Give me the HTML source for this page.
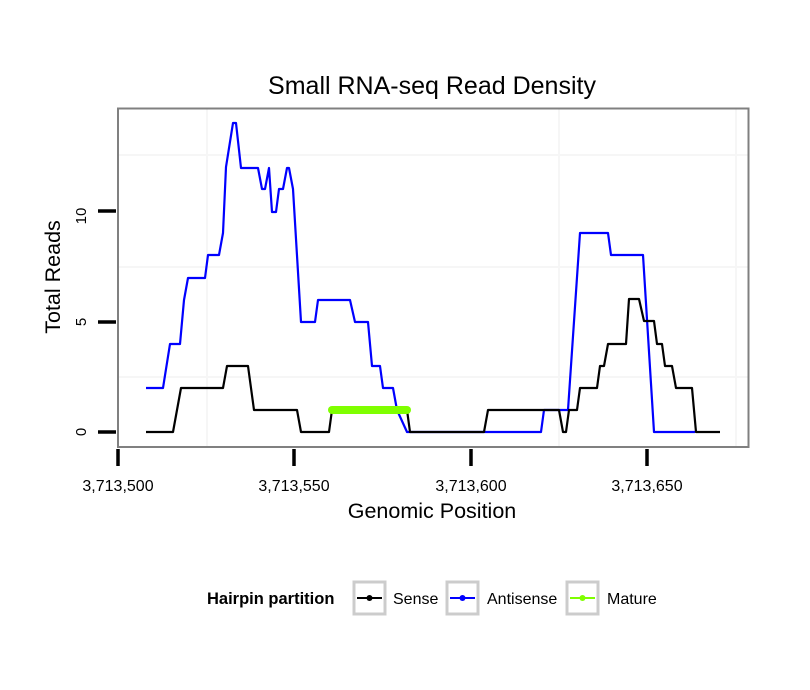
<!DOCTYPE html>
<html><head><style>body{margin:0;background:#fff}svg{display:block}text{font-family:"Liberation Sans",sans-serif}</style></head><body>
<svg width="810" height="690" viewBox="0 0 810 690" xmlns="http://www.w3.org/2000/svg">
<rect x="0" y="0" width="810" height="690" fill="#fff"/>
<g stroke="#f6f6f6" stroke-width="2">
<line x1="207" y1="109" x2="207" y2="446"/><line x1="559" y1="109" x2="559" y2="446"/><line x1="736" y1="109" x2="736" y2="446"/>
<line x1="119" y1="155" x2="748" y2="155"/><line x1="119" y1="267" x2="748" y2="267"/><line x1="119" y1="377" x2="748" y2="377"/>
</g>
<rect x="118" y="108.5" width="630.5" height="338.5" fill="none" stroke="#808080" stroke-width="2"/>
<text x="432" y="94" font-size="25" text-anchor="middle">Small RNA-seq Read Density</text>
<g stroke="#000" stroke-width="3.5">
<line x1="98" y1="211" x2="116" y2="211"/><line x1="98" y1="322" x2="116" y2="322"/><line x1="98" y1="432" x2="116" y2="432"/>
<line x1="118" y1="449" x2="118" y2="466"/><line x1="294" y1="449" x2="294" y2="466"/><line x1="471" y1="449" x2="471" y2="466"/><line x1="647" y1="449" x2="647" y2="466"/>
</g>
<g font-size="15" text-anchor="middle">
<text transform="translate(86,216) rotate(-90)">10</text>
<text transform="translate(86,322) rotate(-90)">5</text>
<text transform="translate(86,432) rotate(-90)">0</text>
</g>
<g font-size="16" text-anchor="middle">
<text x="118" y="491">3,713,500</text><text x="294" y="491">3,713,550</text><text x="471" y="491">3,713,600</text><text x="647" y="491">3,713,650</text>
</g>
<text x="432" y="518" font-size="21.5" text-anchor="middle">Genomic Position</text>
<text transform="translate(60,277) rotate(-90)" font-size="21.5" text-anchor="middle">Total Reads</text>
<polyline fill="none" stroke="#0000ff" stroke-width="2.2" stroke-linejoin="round" points="146,388 163,388 170,344 180,344 184,300 188,278 205,278 208,255 219,255 223,233 226,167 233,123 236,123 241,168 258,168 262,189 265,189 269,168 272,212 276,212 279,189 283,189 287,168 289,168 293,189 301,322 315,322 318,300 350,300 355,322 368,322 372,366 380,366 383,388 393,388 397,410 407,432 541,432 544,410 568,410 580,233 608,233 611,255 643,255 654,432 695,432"/>
<polyline fill="none" stroke="#000" stroke-width="2.2" stroke-linejoin="round" points="146,432 173,432 181,388 223,388 227,366 248,366 254,410 297,410 301,432 329,432 332,410 407,410 410,432 484,432 488,410 559,410 563,432 566,432 569,410 577,410 580,388 597,388 600,366 604,366 608,344 626,344 629,299 639,299 644,321 654,321 657,344 662,344 665,366 672,366 676,388 692,388 696,432 720,432"/>
<line x1="332" y1="410" x2="407" y2="410" stroke="#7fff00" stroke-width="8" stroke-linecap="round"/>
<text x="207" y="604" font-size="16.5" font-weight="bold">Hairpin partition</text>
<g fill="#fff" stroke="#cccccc" stroke-width="3">
<rect x="354" y="582" width="31" height="32"/><rect x="447" y="582" width="31" height="32"/><rect x="567" y="582" width="31" height="32"/>
</g>
<line x1="357" y1="598" x2="382" y2="598" stroke="#000" stroke-width="2"/><circle cx="369.5" cy="598" r="3" fill="#000"/>
<line x1="450" y1="598" x2="475" y2="598" stroke="#0000ff" stroke-width="2"/><circle cx="462.5" cy="598" r="3" fill="#0000ff"/>
<line x1="570" y1="598" x2="595" y2="598" stroke="#7fff00" stroke-width="2"/><circle cx="582.5" cy="598" r="3" fill="#7fff00"/>
<g font-size="16"><text x="393" y="604">Sense</text><text x="487" y="604">Antisense</text><text x="607" y="604">Mature</text></g>
</svg>
</body></html>
